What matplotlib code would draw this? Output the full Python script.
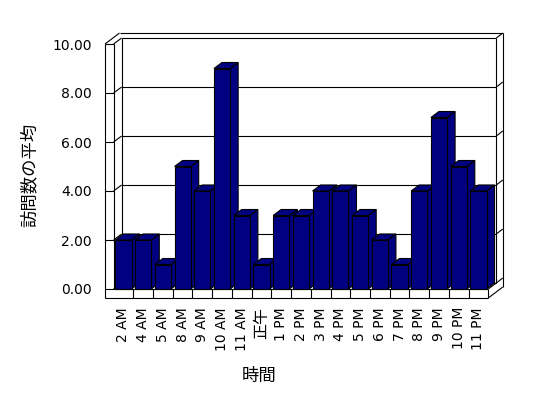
import matplotlib
matplotlib.use('Agg')
import matplotlib.pyplot as plt
from matplotlib.patches import Polygon

categories = ['2 AM', '4 AM', '5 AM', '8 AM', '9 AM', '10 AM', '11 AM', '正午',
              '1 PM', '2 PM', '3 PM', '4 PM', '5 PM', '6 PM', '7 PM', '8 PM',
              '9 PM', '10 PM', '11 PM']
values = [2, 2, 1, 5, 4, 9, 3, 1, 3, 3, 4, 4, 3, 2, 1, 4, 7, 5, 4]
y_ticks = [0, 2, 4, 6, 8, 10]
x_title = '時間'
y_title = '訪問数の平均'

BAR = '#000080'
LATIN = ['DejaVu Sans']
CJK = ['Noto Sans CJK JP', 'DejaVu Sans']

W, H = 548, 398
fig = plt.figure(figsize=(W / 100, H / 100), dpi=100)
fig.patch.set_facecolor('white')
L, R, T, B = 113.6, 488.3, 44, 289
ax = fig.add_axes([L / W, 1 - B / H, (R - L) / W, (B - T) / H])
n = len(categories)
ymax = y_ticks[-1]
ax.set_xlim(0, n)
ax.set_ylim(0, ymax)
for s in ax.spines.values():
    s.set_visible(False)
ax.set_facecolor('none')

pxx = (R - L) / n
pxy = (B - T) / ymax
DX, DY = 8 / pxx, 6 / pxy          # depth of plot area
OX, OY = 14.5 / pxx, 11 / pxy      # outer depth incl. wall thickness
WX = 8.6 / pxx                     # left wall thickness
FY = 9 / pxy                       # floor thickness

lk = dict(color='black', lw=0.8, clip_on=False, solid_capstyle='butt')


def line(xs, ys, z=1):
    ax.plot(xs, ys, zorder=z, **lk)


# left wall
line([-WX, -WX], [-FY, ymax])
line([0, 0], [0, ymax])
line([-WX, -WX + OX], [ymax, ymax + OY])
line([0, DX], [ymax, ymax + DY])
# back wall
line([DX, n + DX], [ymax + DY] * 2)
line([-WX + OX, n + OX], [ymax + OY] * 2)
line([DX, DX], [DY, ymax + DY])
line([n + DX, n + DX], [DY, ymax + DY])
line([n + OX, n + OX], [-FY + OY, ymax + OY])
line([n + DX, n + OX], [ymax + DY, ymax + OY])
# gridlines
for v in y_ticks:
    line([-WX, 0], [v, v])
    if v < ymax:
        line([0, DX], [v, v + DY])
        line([DX, n + DX], [v + DY] * 2)
        line([n + DX, n + OX], [v + DY, v + OY])
# floor
line([-WX, n], [-FY, -FY])
line([0, n], [0, 0])
line([n, n], [-FY, 0])
line([n, n + OX], [-FY, -FY + OY])
line([n, n + DX], [0, DY])
for k in range(1, n):
    line([k, k], [-FY, 0])

# bars
g = 0.09
for i, v in enumerate(values):
    x0, x1 = i + g, i + 1 - g
    front = Polygon([(x0, 0), (x1, 0), (x1, v), (x0, v)])
    side = Polygon([(x1, 0), (x1 + DX, DY), (x1 + DX, v + DY), (x1, v)])
    top = Polygon([(x0, v), (x1, v), (x1 + DX, v + DY), (x0 + DX, v + DY)])
    for p in (side, top, front):
        p.set_facecolor(BAR)
        p.set_edgecolor('black')
        p.set_linewidth(0.8)
        p.set_clip_on(False)
        p.set_zorder(3 + i * 0.01)
        ax.add_patch(p)

# ticks and labels
ax.set_yticks(y_ticks)
ax.set_yticklabels([f'{v:.2f}' for v in y_ticks], family=LATIN, fontsize=10)
ax.tick_params(axis='y', length=0, pad=15.5)
ax.set_xticks([i + 0.5 for i in range(n)])
ax.set_xticklabels(categories, rotation=90, fontsize=10, va='top', ha='center')
for lab in ax.get_xticklabels():
    if any(ord(c) > 127 for c in lab.get_text()):
        lab.set_family(CJK)
        lab.set_fontsize(11.5)
    else:
        lab.set_family(LATIN)
ax.tick_params(axis='x', length=0, pad=13)

ax.set_xlabel(x_title, family=CJK, fontsize=12.5)
ax.xaxis.set_label_coords((259 - L) / (R - L), (B - 376) / (B - T))
ax.xaxis.label.set_va('center')
ax.set_ylabel(y_title, family=CJK, fontsize=12.5)
ax.yaxis.set_label_coords((30 - L) / (R - L), (B - 175) / (B - T))
ax.yaxis.label.set_va('center')

fig.savefig('out.png', dpi=100, facecolor='white')
